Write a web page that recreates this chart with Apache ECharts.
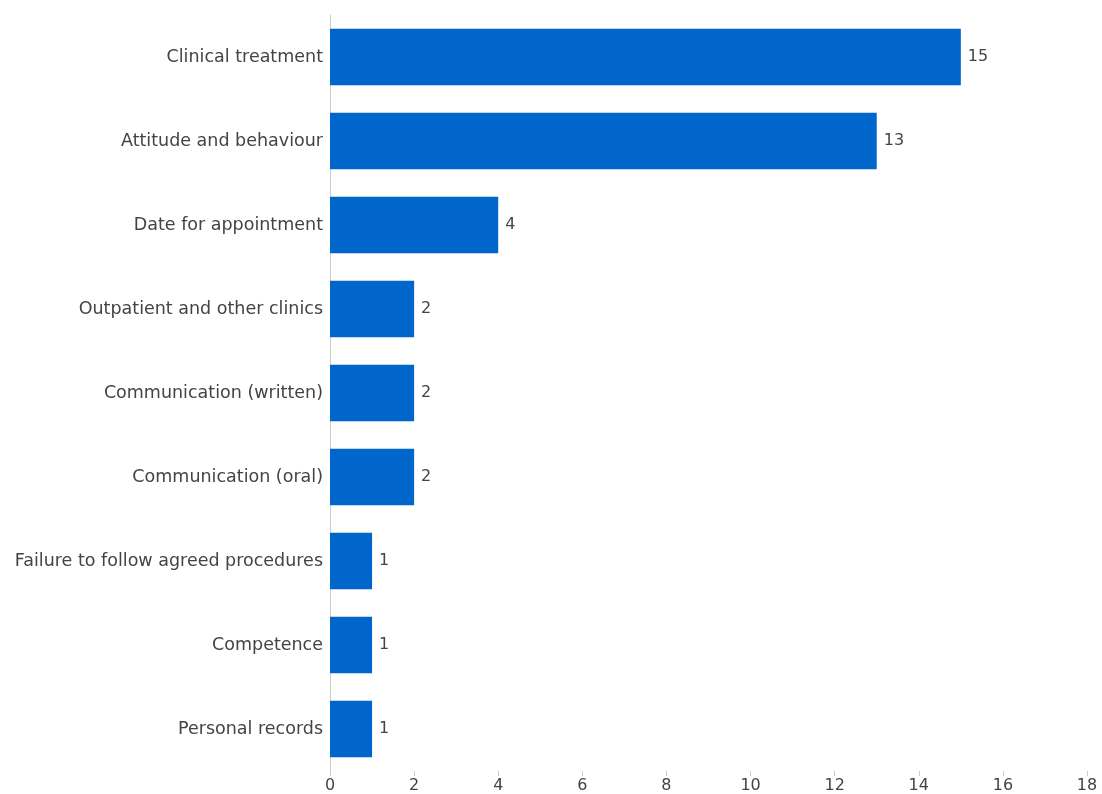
<!DOCTYPE html>
<html lang="en">

<head>
    <meta charset="UTF-8">
    <title>Complaints by subject</title>
    <script src="https://cdn.jsdelivr.net/npm/echarts@6/dist/echarts.min.js"></script>
    <style>
        body {
            margin: 0;
        }

        #app {
            width: 1102px;
            height: 794px;
        }
    </style>
</head>

<body>
    <div id="app"></div>
    <script>
        let categories = ['Clinical treatment', 'Attitude and behaviour', 'Date for appointment',
            'Outpatient and other clinics', 'Communication (written)', 'Communication (oral)',
            'Failure to follow agreed procedures', 'Competence', 'Personal records']
        let counts = [15, 13, 4, 2, 2, 2, 1, 1, 1]
        let xTicks = [0, 2, 4, 6, 8, 10, 12, 14, 16, 18]

        let mCharts = echarts.init(document.getElementById('app'))
        let font = 'DejaVu Sans, sans-serif'
        let option = {
            animation: false,
            grid: {
                left: 330,
                right: 15,
                top: 15,
                bottom: 22
            },
            xAxis: {
                type: 'value',
                min: xTicks[0],
                max: xTicks[xTicks.length - 1],
                interval: 2,
                axisLine: { show: false },
                axisTick: {
                    show: true,
                    length: 5,
                    inside: false,
                    lineStyle: { color: '#ccc' }
                },
                splitLine: { show: false },
                axisLabel: {
                    color: '#444',
                    fontSize: 16,
                    fontFamily: font,
                    margin: 7
                }
            },
            yAxis: {
                type: 'category',
                data: categories,
                inverse: true,
                axisLine: { show: true, lineStyle: { color: '#ccc' } },
                axisTick: { show: false },
                axisLabel: {
                    color: '#444',
                    fontSize: 17.5,
                    fontFamily: font,
                    margin: 7,
                    padding: [4, 0, 0, 0]
                }
            },
            series: [{
                type: 'bar',
                data: counts,
                barCategoryGap: '33%',
                itemStyle: { color: '#0066cc' },
                label: {
                    show: true,
                    position: 'right',
                    distance: 7,
                    color: '#444',
                    fontSize: 16,
                    fontFamily: font
                }
            }]
        }
        mCharts.setOption(option)
    </script>
</body>

</html>
